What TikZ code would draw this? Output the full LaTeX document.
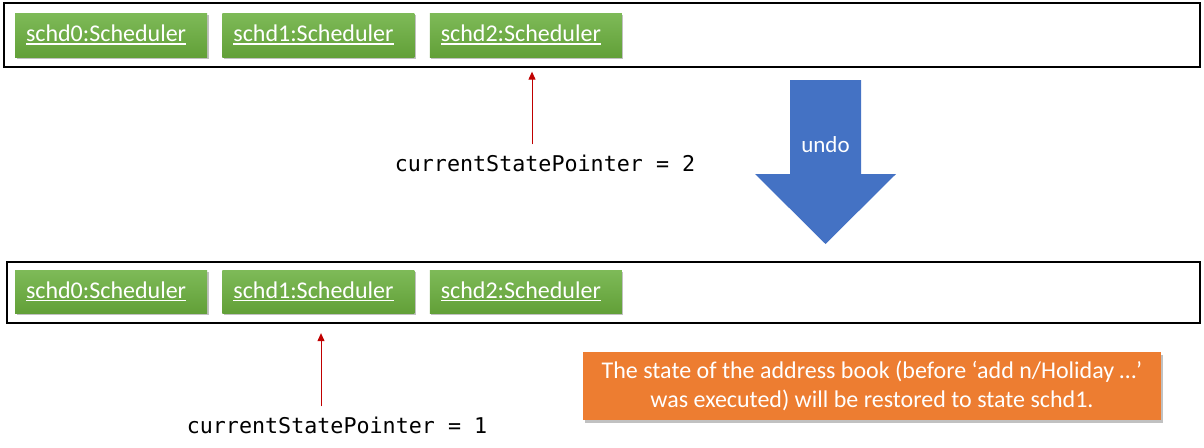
\documentclass[tikz,border=0pt]{standalone}
\usepackage{fontspec}
\setmainfont{Carlito}
\setmonofont{DejaVu Sans Mono}
\usetikzlibrary{positioning, arrows.meta, shadows}

\definecolor{greentop}{RGB}{126,186,88}
\definecolor{greenbot}{RGB}{98,160,56}
\definecolor{undoblue}{RGB}{68,114,196}
\definecolor{noteorange}{RGB}{237,125,49}
\definecolor{ptrred}{RGB}{192,0,0}

% underlined object name
\newcommand{\objname}[1]{\setbox0\hbox{#1}\rlap{\rule[-3.3pt]{\wd0}{1.6pt}}\box0}

\begin{document}
\begin{tikzpicture}[x=1pt, y=-1pt,
    frame/.style={rectangle, draw=black, line width=1.3pt, inner sep=0pt},
    obj/.style={rectangle, top color=greentop, bottom color=greenbot, minimum height=44pt, text width=170pt, inner xsep=11pt, inner ysep=0pt, align=left, text=white, font=\fontsize{24}{28}\selectfont, drop shadow={shadow xshift=1.5pt, shadow yshift=-2pt, opacity=0.35, fill=black!70}},
    ptrtext/.style={font=\ttfamily\fontsize{21.7}{26}\selectfont, anchor=base, inner ysep=10pt},
    ptr/.style={-{Triangle[length=8pt, width=7pt]}, draw=ptrred, line width=1pt},
    note/.style={rectangle, fill=noteorange, text=white, align=center, font=\fontsize{24}{29}\selectfont, drop shadow={shadow xshift=2pt, shadow yshift=-2.5pt, opacity=0.35, fill=black!70}},
]
\useasboundingbox (0,0) rectangle (1204,447);

% ========== STATE LIST (before undo) ==========
\node[frame, minimum width=1196pt, minimum height=64pt] (state0) at (602,35) {};
\node[obj] (s0a) at (111,35) {\objname{schd0:Scheduler}};
\node[obj, right=15pt of s0a] (s1a) {\objname{schd1:Scheduler}};
\node[obj, right=15pt of s1a] (s2a) {\objname{schd2:Scheduler}};

% pointer = 2
\node[ptrtext] (ptr2) at (545,171) {currentStatePointer = 2};
\coordinate (p2) at (532,0);
\draw[ptr, shorten >=4pt] (ptr2.north -| p2) -- (state0.south -| p2);

% ========== UNDO ==========
\fill[undoblue] (790,80) -- (861,80) -- (861,174) -- (896,174) -- (825.5,244) -- (755,174) -- (790,174) -- cycle;
\node[text=white, font=\fontsize{23}{27}\selectfont] (undo) at (825.5,145) {undo};

% ========== STATE LIST (after undo) ==========
\node[frame, minimum width=1193pt, minimum height=61pt] (state1) at (603.5,292.5) {};
\node[obj, minimum height=43pt] (s0b) at (111,291.5) {\objname{schd0:Scheduler}};
\node[obj, minimum height=43pt, right=15pt of s0b] (s1b) {\objname{schd1:Scheduler}};
\node[obj, minimum height=43pt, right=15pt of s1b] (s2b) {\objname{schd2:Scheduler}};

% pointer = 1
\node[ptrtext] (ptr1) at (337,433) {currentStatePointer = 1};
\coordinate (p1) at (321,0);
\draw[ptr, shorten >=9.5pt] (ptr1.north -| p1) -- (state1.south -| p1);

% ========== NOTE ==========
\node[note, minimum width=578pt, minimum height=68pt] (msg) at (872,386) {The state of the address book (before ‘add n/Holiday …’\\was executed) will be restored to state schd1.};

\end{tikzpicture}
\end{document}
